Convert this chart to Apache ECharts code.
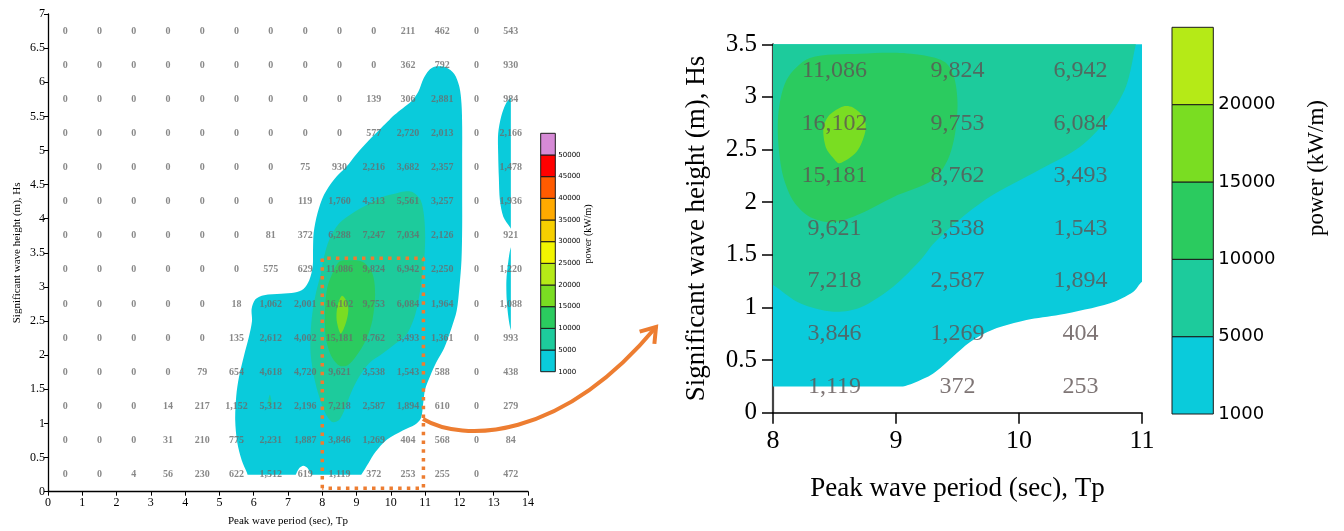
<!DOCTYPE html>
<html><head><meta charset="utf-8">
<script src="https://cdn.jsdelivr.net/npm/echarts@6/dist/echarts.min.js"></script>
<style>html,body{margin:0;padding:0;background:#fff}#c{width:1344px;height:531px}</style>
</head><body><div id="c"></div>
<script>
// ---------- data ----------
const tpCenters = [0.5,1.5,2.5,3.5,4.5,5.5,6.5,7.5,8.5,9.5,10.5,11.5,12.5,13.5];
const hsCenters = [6.75,6.25,5.75,5.25,4.75,4.25,3.75,3.25,2.75,2.25,1.75,1.25,0.75,0.25];
const powerRows = [
  [0,0,0,0,0,0,0,0,0,0,211,462,0,543],
  [0,0,0,0,0,0,0,0,0,0,362,792,0,930],
  [0,0,0,0,0,0,0,0,0,139,306,2881,0,984],
  [0,0,0,0,0,0,0,0,0,577,2720,2013,0,2166],
  [0,0,0,0,0,0,0,75,930,2216,3682,2357,0,1478],
  [0,0,0,0,0,0,0,119,1760,4313,5561,3257,0,1936],
  [0,0,0,0,0,0,81,372,6288,7247,7034,2126,0,921],
  [0,0,0,0,0,0,575,629,11086,9824,6942,2250,0,1220],
  [0,0,0,0,0,18,1062,2001,16102,9753,6084,1964,0,1088],
  [0,0,0,0,0,135,2612,4002,15181,8762,3493,1361,0,993],
  [0,0,0,0,79,654,4618,4720,9621,3538,1543,588,0,438],
  [0,0,0,14,217,1152,5312,2196,7218,2587,1894,610,0,279],
  [0,0,0,31,210,775,2231,1887,3846,1269,404,568,0,84],
  [0,0,4,56,230,622,1512,619,1119,372,253,255,0,472]
];
const zoomTpRange = [8, 11];
const zoomHsRange = [0, 3.5];
const zoomBox = [[8,0.05],[8,3.42],[10.95,3.42],[10.95,0.05],[8,0.05]];

const levelsLeft = [1000,5000,10000,15000,20000,25000,30000,35000,40000,45000,50000];
const colorsLeft = ['#0ACBDB','#1DCB9C','#2BCB5F','#7ADD22','#B5EA17','#F2F500','#F6CF00','#FFAA00','#FF5B00','#FF0000','#D68AD6'];
const levelsRight = [1000,5000,10000,15000,20000];
const colorsRight = ['#0ACBDB','#1DCB9C','#2BCB5F','#7ADD22','#B5EA17'];

// contour outlines (Tp, Hs)
const leftDomain = [0.5, 13.5, 0.25, 6.75];
const left1000Main = [[5.95,0.1],[5.8,0.28],[5.65,0.46],[5.52,0.72],[5.46,1.05],[5.49,1.4],[5.57,1.68],[5.72,2.0],[5.86,2.27],[5.95,2.5],[5.94,2.68],[6.05,2.82],[6.3,2.88],[6.8,2.9],[7.2,2.92],[7.45,2.97],[7.62,3.1],[7.72,3.3],[7.73,3.55],[7.75,3.8],[7.86,4.08],[8.05,4.35],[8.35,4.58],[8.7,4.76],[9.0,4.95],[9.36,5.15],[9.66,5.3],[9.9,5.42],[10.1,5.52],[10.35,5.62],[10.6,5.72],[10.8,5.86],[10.95,6.05],[11.1,6.17],[11.3,6.23],[11.6,6.22],[11.85,6.12],[12.0,5.93],[12.06,5.69],[12.08,5.35],[12.08,4.86],[12.08,4.37],[12.08,3.88],[12.06,3.39],[12.0,3.0],[11.92,2.65],[11.77,2.4],[11.55,2.1],[11.33,1.9],[11.15,1.7],[11.0,1.5],[10.94,1.28],[10.88,1.08],[10.7,0.98],[10.36,0.9],[9.88,0.76],[9.55,0.58],[9.35,0.42],[9.1,0.22],[8.9,0.1],[7.85,0.1],[7.7,0.22],[7.58,0.34],[7.45,0.38],[7.32,0.34],[7.2,0.22],[7.05,0.1]];
const left1000StripA = [[13.47,5.76],[13.6,5.8],[13.6,3.8],[13.47,3.88],[13.28,4.03],[13.18,4.27],[13.15,4.6],[13.13,4.95],[13.13,5.25],[13.22,5.5],[13.35,5.68]];
const left1000StripB = [[13.5,3.58],[13.6,3.6],[13.6,2.3],[13.5,2.37],[13.43,2.55],[13.38,2.8],[13.37,3.1],[13.42,3.35]];
const left5000Main = [[10.14,4.37],[10.4,4.4],[10.63,4.39],[10.87,4.27],[10.97,4.03],[11.0,3.73],[10.97,3.39],[10.87,3.0],[10.72,2.61],[10.48,2.32],[10.14,2.17],[9.75,2.02],[9.36,1.88],[9.07,1.68],[8.83,1.44],[8.64,1.19],[8.49,1.05],[8.3,1.02],[8.1,1.14],[7.91,1.39],[7.76,1.68],[7.66,2.02],[7.66,2.32],[7.71,2.61],[7.81,2.9],[7.96,3.2],[8.05,3.44],[8.2,3.69],[8.49,3.93],[8.88,4.08],[9.36,4.22],[9.75,4.32]];
const left5000Small = [[6.47,1.42],[6.52,1.3],[6.47,1.25],[6.42,1.3]];
const left10000 = [[8.49,3.37],[8.68,3.39],[9.17,3.37],[9.46,3.2],[9.54,2.9],[9.46,2.51],[9.27,2.22],[8.98,1.98],[8.73,1.85],[8.49,1.85],[8.25,2.0],[8.1,2.27],[8.08,2.66],[8.15,3.0],[8.34,3.25]];
const left15000 = [[8.57,2.87],[8.70,2.8],[8.76,2.66],[8.68,2.46],[8.54,2.32],[8.42,2.51],[8.44,2.71]];

const rightDomain = [8, 11, 0.25, 3.5];
const right1000 = [[7.9,0.1],[8.9,0.1],[9.05,0.24],[9.14,0.28],[9.30,0.37],[9.46,0.53],[9.60,0.67],[9.79,0.79],[10.06,0.88],[10.33,0.93],[10.74,1.04],[10.93,1.15],[11.0,1.245],[11.1,1.3],[11.1,3.6],[7.9,3.6]];
const right5000 = [[7.9,3.6],[10.97,3.6],[10.95,3.5],[10.87,3.1],[10.71,2.78],[10.5,2.53],[10.17,2.31],[9.76,2.05],[9.5,1.82],[9.3,1.6],[9.2,1.45],[8.98,1.2],[8.71,1.0],[8.49,0.96],[8.22,1.04],[8.02,1.2],[7.9,1.3]];
const right10000 = [[8.3,3.37],[8.71,3.41],[9.0,3.42],[9.25,3.39],[9.4,3.33],[9.47,3.2],[9.5,2.95],[9.48,2.65],[9.42,2.4],[9.3,2.21],[8.98,2.05],[8.71,1.89],[8.49,1.81],[8.3,1.86],[8.16,2.02],[8.07,2.31],[8.04,2.78],[8.11,3.16]];
const right15000 = [[8.57,2.91],[8.65,2.9],[8.74,2.8],[8.75,2.67],[8.68,2.48],[8.54,2.37],[8.49,2.42],[8.43,2.52],[8.41,2.71],[8.46,2.83]];

// ---------- build ----------
const SERIF = '"Liberation Serif","Times New Roman",serif';
const SANS = '"DejaVu Sans",sans-serif';
const fmt = v => Number(v).toLocaleString('en-US');

const leftLabels = [];
const rightLabels = [];
hsCenters.forEach((hs, i) => tpCenters.forEach((tp, j) => {
  const v = powerRows[i][j];
  leftLabels.push([tp, hs, v]);
  if (tp > zoomTpRange[0] && tp < zoomTpRange[1] && hs > zoomHsRange[0] && hs < zoomHsRange[1]) rightLabels.push([tp, hs, v]);
}));

function contour(poly, color, idx, dom, smooth) {
  return {
    type: 'custom', xAxisIndex: idx, yAxisIndex: idx, silent: true, z: 1, clip: false,
    data: [[dom[0], dom[2]]],
    renderItem: (params, api) => {
      const pts = poly.map(p => api.coord(p));
      const a = api.coord([dom[0], dom[3]]);
      const b = api.coord([dom[1], dom[2]]);
      return {
        type: 'group',
        clipPath: {type: 'rect', shape: {x: a[0], y: a[1], width: b[0] - a[0], height: b[1] - a[1]}},
        children: [{type: 'polygon', shape: {points: pts, smooth: smooth}, style: {fill: color, stroke: null}}]
      };
    }
  };
}
function colorbar(colors, idx) {
  return {
    type: 'custom', xAxisIndex: idx, yAxisIndex: idx, silent: true,
    data: colors.map((c, i) => [0, i]),
    renderItem: (params, api) => {
      const i = api.value(1);
      const a = api.coord([0, i + 1]);
      const b = api.coord([1, i]);
      return {type: 'rect', shape: {x: a[0], y: a[1], width: b[0] - a[0], height: b[1] - a[1]},
        style: {fill: colors[i], stroke: '#1a1a1a', lineWidth: 1}};
    }
  };
}

const chart = echarts.init(document.getElementById('c'), null, {renderer: 'canvas'});

const axisBase = (lw) => ({
  axisLine: {show: true, onZero: false, lineStyle: {color: '#000', width: lw}},
  splitLine: {show: false},
  axisTick: {show: true, inside: false},
});

// arrow geometry (annotation)
const arrow = {x1: 423, y1: 419, cpx1: 462, cpy1: 442, cpx2: 560, cpy2: 442, x2: 656, y2: 327};
const dx = arrow.x2 - arrow.cpx2, dy = arrow.y2 - arrow.cpy2;
const L = Math.hypot(dx, dy), ux = -dx / L, uy = -dy / L;
const rot = (ang) => [ux * Math.cos(ang) - uy * Math.sin(ang), ux * Math.sin(ang) + uy * Math.cos(ang)];
const r1 = rot(0.6), r2 = rot(-0.6), AL = 17;

chart.setOption({
  animation: false,
  backgroundColor: '#fff',
  grid: [
    {left: 48, top: 14, width: 480, height: 477.7, outerBoundsMode: 'none', containLabel: false},
    {left: 773, top: 44.3, width: 369, height: 368.4, outerBoundsMode: 'none', containLabel: false},
    {left: 540.7, top: 133.3, width: 14.6, height: 238.4, outerBoundsMode: 'none', containLabel: false},
    {left: 1172, top: 27.3, width: 41.3, height: 386.7, outerBoundsMode: 'none', containLabel: false}
  ],
  xAxis: [
    Object.assign(axisBase(1.3), {type: 'value', gridIndex: 0, min: 0, max: 14, interval: 1,
      axisTick: {show: true, length: 4, lineStyle: {color: '#000'}},
      axisLabel: {fontFamily: SERIF, fontSize: 12, color: '#000', margin: 5},
      name: 'Peak wave period (sec), Tp', nameLocation: 'middle', nameGap: 24,
      nameTextStyle: {fontFamily: SERIF, fontSize: 11, color: '#000'}}),
    Object.assign(axisBase(1.6), {type: 'value', gridIndex: 1, min: 8, max: 11, interval: 1,
      axisTick: {show: true, length: 11, lineStyle: {color: '#000', width: 1.5}},
      axisLabel: {fontFamily: SERIF, fontSize: 26, color: '#000', margin: 15},
      name: 'Peak wave period (sec), Tp', nameLocation: 'middle', nameGap: 63,
      nameTextStyle: {fontFamily: SERIF, fontSize: 27, color: '#000'}}),
    {type: 'value', gridIndex: 2, min: 0, max: 1, show: false},
    {type: 'value', gridIndex: 3, min: 0, max: 1, show: false}
  ],
  yAxis: [
    Object.assign(axisBase(1.3), {type: 'value', gridIndex: 0, min: 0, max: 7, interval: 0.5,
      axisTick: {show: true, length: 4, lineStyle: {color: '#000'}},
      axisLabel: {fontFamily: SERIF, fontSize: 12, color: '#000', margin: 3},
      name: 'Significant wave height (m), Hs', nameLocation: 'middle', nameGap: 25,
      nameTextStyle: {fontFamily: SERIF, fontSize: 11, color: '#000'}}),
    Object.assign(axisBase(2), {type: 'value', gridIndex: 1, min: 0, max: 3.5, interval: 0.5,
      axisLine: {show: true, onZero: false, lineStyle: {color: '#444', width: 2.2}},
      axisTick: {show: true, length: 11, lineStyle: {color: '#000', width: 1.5}},
      axisLabel: {fontFamily: SERIF, fontSize: 25, color: '#000', margin: 16},
      name: 'Significant wave height (m), Hs', nameLocation: 'middle', nameGap: 63,
      nameTextStyle: {fontFamily: SERIF, fontSize: 27, color: '#000'}}),
    {type: 'value', gridIndex: 2, min: 0, max: levelsLeft.length, interval: 1, position: 'right',
      axisLine: {show: false}, axisTick: {show: false}, splitLine: {show: false},
      axisLabel: {fontFamily: SANS, fontSize: 7, color: '#000', margin: 3,
        formatter: v => (levelsLeft[v] !== undefined ? String(levelsLeft[v]) : '')}},
    {type: 'value', gridIndex: 3, min: 0, max: levelsRight.length, interval: 1, position: 'right',
      axisLine: {show: false}, axisTick: {show: false}, splitLine: {show: false},
      axisLabel: {fontFamily: SANS, fontSize: 18, color: '#000', margin: 5,
        formatter: v => (levelsRight[v] !== undefined ? String(levelsRight[v]) : '')}}
  ],
  series: [
    contour(left1000Main, colorsLeft[0], 0, leftDomain, 0.3),
    contour(left1000StripA, colorsLeft[0], 0, leftDomain, 0.3),
    contour(left1000StripB, colorsLeft[0], 0, leftDomain, 0.3),
    contour(left5000Main, colorsLeft[1], 0, leftDomain, 0.3),
    contour(left5000Small, colorsLeft[1], 0, leftDomain, 0.3),
    contour(left10000, colorsLeft[2], 0, leftDomain, 0.3),
    contour(left15000, colorsLeft[3], 0, leftDomain, 0.3),
    contour(right1000, colorsRight[0], 1, rightDomain, 0.3),
    contour(right5000, colorsRight[1], 1, rightDomain, 0.3),
    contour(right10000, colorsRight[2], 1, rightDomain, 0.3),
    contour(right15000, colorsRight[3], 1, rightDomain, 0.3),
    colorbar(colorsLeft, 2),
    colorbar(colorsRight, 3),
    {type: 'scatter', xAxisIndex: 0, yAxisIndex: 0, z: 5, silent: true, symbol: 'circle', symbolSize: 1,
      itemStyle: {color: 'rgba(0,0,0,0)'}, data: leftLabels,
      label: {show: true, position: 'inside', formatter: p => fmt(p.value[2]),
        fontFamily: SERIF, fontSize: 10, fontWeight: 'bold', color: '#6a6a6a'}},
    {type: 'scatter', xAxisIndex: 1, yAxisIndex: 1, z: 5, silent: true, symbol: 'circle', symbolSize: 1,
      itemStyle: {color: 'rgba(0,0,0,0)'}, data: rightLabels,
      label: {show: true, position: 'inside', formatter: p => fmt(p.value[2]),
        fontFamily: SERIF, fontSize: 24, color: '#5e5252'}},
    {type: 'line', xAxisIndex: 0, yAxisIndex: 0, z: 6, silent: true, symbol: 'none', data: zoomBox,
      lineStyle: {color: '#ED7D31', width: 3.5, type: [3.5, 5.2], cap: 'butt'}}
  ],
  graphic: [
    {type: 'text', x: 588, y: 234, rotation: Math.PI / 2,
      style: {text: 'power (kW/m)', font: '10px "Liberation Serif"', fill: '#000', align: 'center', verticalAlign: 'middle'}},
    {type: 'text', x: 1317, y: 168, rotation: Math.PI / 2,
      style: {text: 'power (kW/m)', font: '23px "Liberation Serif"', fill: '#000', align: 'center', verticalAlign: 'middle'}},
    {type: 'bezierCurve', shape: arrow, style: {stroke: '#ED7D31', lineWidth: 4, fill: null}},
    {type: 'polyline', shape: {points: [[arrow.x2 + r1[0] * AL, arrow.y2 + r1[1] * AL], [arrow.x2, arrow.y2], [arrow.x2 + r2[0] * AL, arrow.y2 + r2[1] * AL]]},
      style: {stroke: '#ED7D31', lineWidth: 4, fill: null, lineJoin: 'miter'}}
  ]
});
</script>
</body></html>
